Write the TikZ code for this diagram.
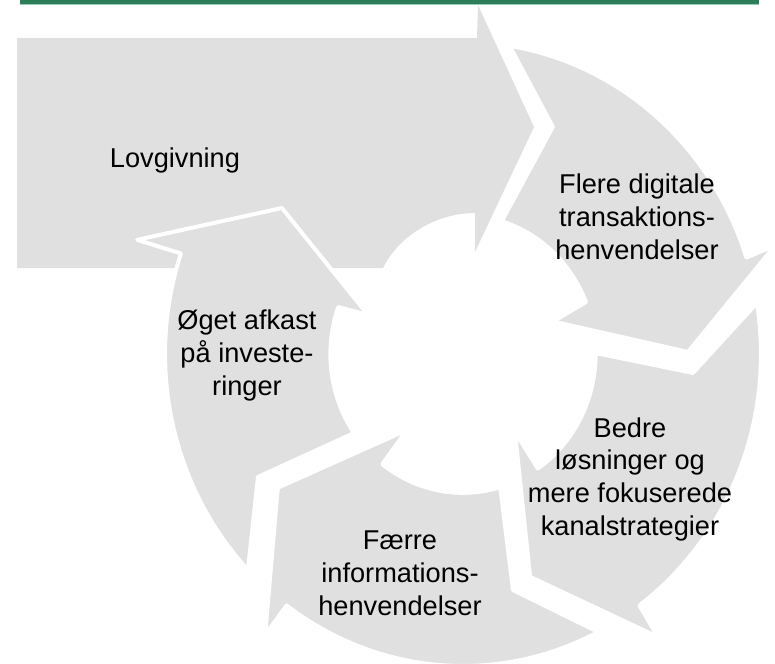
\documentclass[tikz,border=0pt]{standalone}
\usepackage{fontspec}
\setmainfont{Liberation Sans}
\usepackage{tikz}

\definecolor{segfill}{RGB}{224,224,224}
\definecolor{rulegreen}{RGB}{45,125,90}
\definecolor{rulelight}{RGB}{150,205,180}

\begin{document}
\begin{tikzpicture}[x=0.75pt, y=-0.75pt]
	\tikzstyle{segment} = [fill=segfill, draw=white, line width=3pt, line join=round]
	\tikzstyle{cyclelabel} = [align=center, anchor=base, inner sep=0pt, font=\fontsize{20.4}{24.4}\selectfont]

	\useasboundingbox (0,0) rectangle (775,664);

	% rule along the top
	\fill [rulelight] (20,0) rectangle (759,5);
	\fill [rulegreen] (20,0) rectangle (759,4);

	% wide arrow into the cycle
	\fill [segfill] (17,38) -- (477,38) -- (478,5) -- (534,127) -- (475,252) -- (475,213)
		.. controls (435,213) and (398,237) .. (383,268) -- (17,268) -- cycle;

	% the four block arcs, angles run clockwise
	\begin{scope}[shift={(463,354)}, x={(2.235pt,0)}, y={(0,-2.34pt)}]
		\draw [segment] (-81:100) -- (-67.5:78.8) -- (-73:44.5)
			-- plot [domain=-73:-22, samples=30] (\x:44.5)
			-- (-19:32) -- (-0.5:75.5) -- (-18.4:110.4) -- (-18:100)
			-- plot [domain=-18:-81, samples=30] (\x:100) -- cycle;
		\draw [segment] (-9.4:100) -- (4.5:77.4) -- (-0.4:44.5)
			-- plot [domain=-0.4:55.6, samples=30] (\x:44.5)
			-- (55.1:30.5) -- (72.5:74.9) -- (54.2:111.8) -- (53.7:100)
			-- plot [domain=53.7:-9.4, samples=30] (\x:100) -- cycle;
		\draw [segment] (63:100) -- (77.5:77.5) -- (73.7:44.5)
			-- plot [domain=73.7:127.5, samples=30] (\x:44.5)
			-- (127.7:30.8) -- (145.4:75.5) -- (126.4:111.9) -- (126.3:100)
			-- plot [domain=126.3:63, samples=30] (\x:100) -- cycle;
		\draw [segment] (136.2:100) -- (150.2:79.3) -- (145.3:44.5)
			-- plot [domain=145.3:199.8, samples=30] (\x:44.5)
			-- (201.4:34.2) -- (217.6:76.7) -- (198.5:115.3) -- (198.8:100)
			-- plot [domain=198.8:136.2, samples=30] (\x:100) -- cycle;
	\end{scope}

	% labels sit on the baseline of their last line
	\node [cyclelabel] (lovgivning) at (175,167) {Lovgivning};
	\node [cyclelabel] (flere) at (637,259) {Flere digitale\\transaktions-\\henvendelser};
	\node [cyclelabel] (bedre) at (630,535) {Bedre\\løsninger og\\mere fokuserede\\kanalstrategier};
	\node [cyclelabel] (faerre) at (400,615) {Færre\\informations-\\henvendelser};
	\node [cyclelabel] (oeget) at (247,395) {Øget afkast\\på investe-\\ringer};
\end{tikzpicture}
\end{document}
